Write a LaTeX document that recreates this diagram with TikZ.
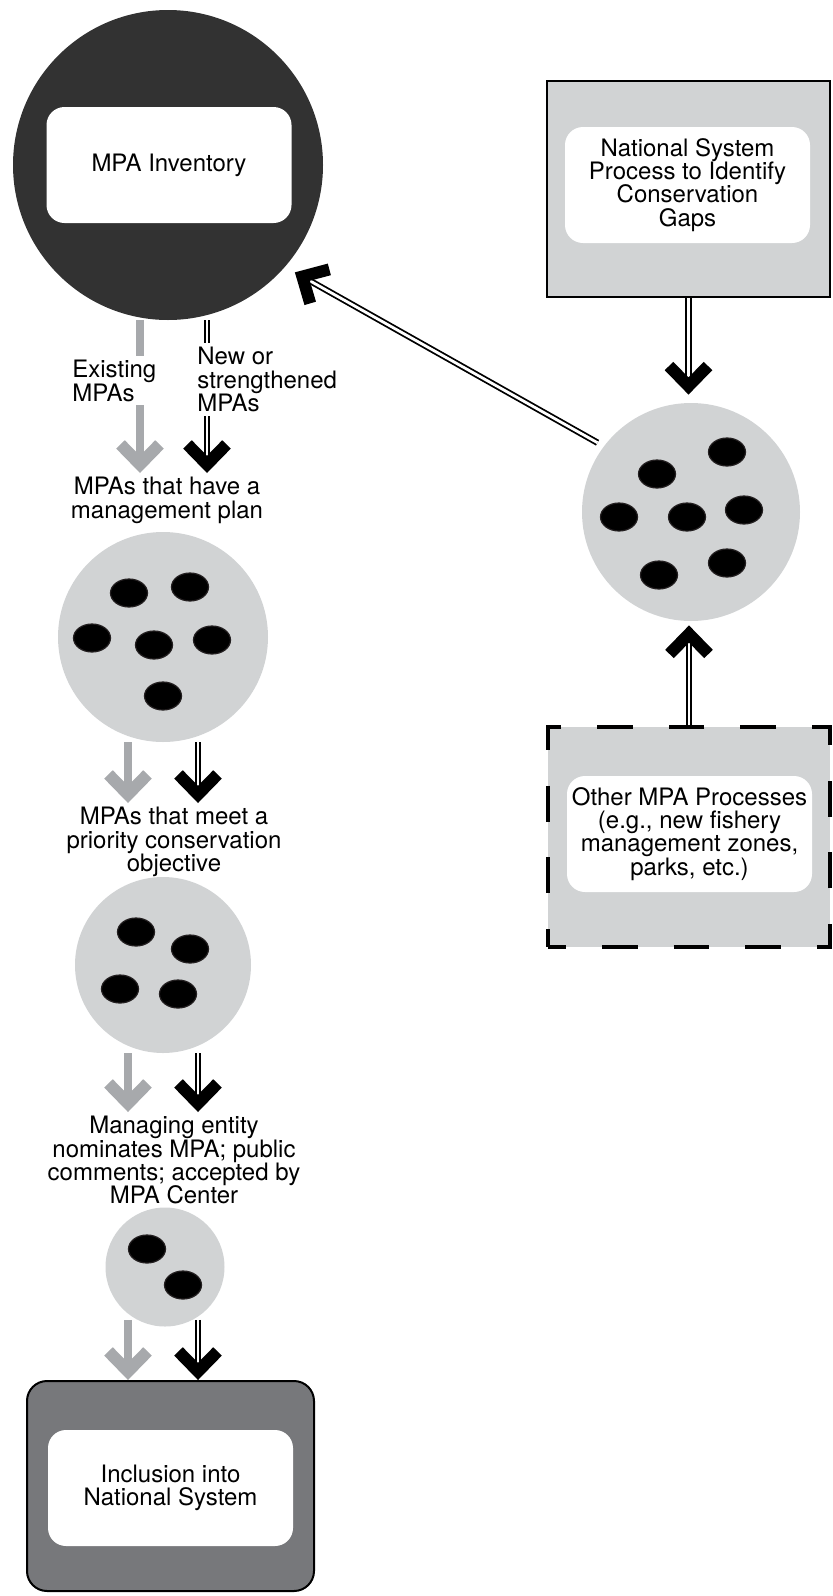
\documentclass[tikz,border=0pt]{standalone}
\usepackage{fontspec}
\setmainfont{TeX Gyre Heros}
\usetikzlibrary{arrows.meta,shapes.geometric}

\definecolor{darkfill}{HTML}{323232}
\definecolor{poolgray}{HTML}{D1D3D4}
\definecolor{arrowgray}{HTML}{A7A9AC}
\definecolor{boxgray}{HTML}{77787B}
\definecolor{dotedge}{HTML}{231F20}
\newcommand{\mpafont}{\fontsize{12}{11.6}\selectfont}

\begin{document}
\begin{tikzpicture}[x=0.5pt,y=-0.5pt]
	\useasboundingbox (0,0) rectangle (833,1596);
	\tikzstyle{pool} = [
		circle, fill=poolgray, inner sep=0pt
	]
	\tikzstyle{dot} = [
		ellipse, fill=black, draw=dotedge, line width=0.6pt,
		minimum width=18.5pt, minimum height=14pt, inner sep=0pt
	]
	\tikzstyle{panel} = [
		rectangle, rounded corners=9pt, fill=white, inner xsep=1pt,
		minimum width=122.5pt, minimum height=58pt, align=center, font=\mpafont
	]
	\tikzstyle{caption} = [
		align=center, inner sep=2pt, font=\mpafont
	]
	\tikzstyle{conn_gray} = [
		draw=arrowgray, line width=4pt,
		-{Straight Barb[length=10pt, width=19.5pt, line width=6pt]}
	]
	\tikzstyle{conn_dbl} = [
		double, double distance=1.4pt, line width=0.9pt,
		-{Straight Barb[length=10pt, width=19.5pt, line width=6pt]}
	]

	% MPA Inventory
	\node (inventory) [pool, fill=darkfill, minimum size=155pt] at (168,165) {};
	\node (inventory_panel) [panel] at (169,165) {MPA Inventory};

	% Gap process
	\node (gaps) [rectangle, draw=black, line width=1pt, fill=poolgray,
		minimum width=141.5pt, minimum height=108pt] at (688.5,189) {};
	\node (gaps_panel) [panel] at (687.5,185) {National System\\Process to Identify\\Conservation\\Gaps};

	% New MPAs
	\node (pool_new) [pool, minimum size=109pt] at (691,512) {};
	\foreach \x/\y [count=\i] in {727/452,657/474,619/517,687/517,744/510,727/563,659/575}
		\node (new_dot\i) [dot] at (\x,\y) {};

	% Other processes
	\node (other) [rectangle, draw=black, line width=1.8pt, fill=poolgray,
		dash pattern=on 17.93pt off 17.93pt, dash phase=8.96pt,
		minimum width=141pt, minimum height=110pt] at (689,837) {};
	\node (other_panel) [panel] at (689.5,834) {Other MPA Processes\\(e.g., new fishery\\management zones,\\parks, etc.)};

	% Left column
	\node (plan_caption) [caption, anchor=north] at (167,473) {MPAs that have a\\management plan};
	\node (plan_pool) [pool, minimum size=105pt] at (163,637) {};
	\foreach \x/\y [count=\i] in {129/593,190/587,92/638,154/645,212/640,163/696}
		\node (plan_dot\i) [dot] at (\x,\y) {};

	\node (meet_caption) [caption, anchor=north] at (174,803) {MPAs that meet a\\priority conservation\\objective};
	\node (meet_pool) [pool, minimum size=88pt] at (163,965) {};
	\foreach \x/\y [count=\i] in {136/932,190/949,120/989,178/994}
		\node (meet_dot\i) [dot] at (\x,\y) {};

	\node (nominated_caption) [caption, anchor=north] at (174,1112) {Managing entity\\nominates MPA; public\\comments; accepted by\\MPA Center};
	\node (nominated_pool) [pool, minimum size=59.5pt] at (165,1267) {};
	\foreach \x/\y [count=\i] in {147/1249,183/1285}
		\node (nominated_dot\i) [dot] at (\x,\y) {};

	% Inclusion
	\node (inclusion) [rectangle, rounded corners=10pt, draw=black, line width=1pt, fill=boxgray,
		minimum width=143.5pt, minimum height=105pt] at (170.5,1486) {};
	\node (inclusion_panel) [panel] at (170.5,1488) {Inclusion into\\National System};

	% Arrow columns
	\coordinate (gray_top) at (140,0);
	\coordinate (black_top) at (207,0);
	\coordinate (gray_col) at (128,0);
	\coordinate (black_col) at (198,0);

	% Left flow
	\draw[conn_gray] (inventory.south -| gray_top) -- (plan_caption.north -| gray_top);
	\draw[conn_dbl] (inventory.south -| black_top) -- (plan_caption.north -| black_top);
	\draw[conn_gray] (plan_pool.south -| gray_col) -- (meet_caption.north -| gray_col);
	\draw[conn_dbl] (plan_pool.south -| black_col) -- (meet_caption.north -| black_col);
	\draw[conn_gray] (meet_pool.south -| gray_col) -- (nominated_caption.north -| gray_col);
	\draw[conn_dbl] (meet_pool.south -| black_col) -- (nominated_caption.north -| black_col);
	\draw[conn_gray] ([yshift=3.5pt]nominated_pool.south -| gray_col) -- (inclusion.north -| gray_col);
	\draw[conn_dbl] ([yshift=3.5pt]nominated_pool.south -| black_col) -- (inclusion.north -| black_col);

	% Right flow
	\draw[conn_dbl, shorten >=4pt] (gaps.south) -- (gaps.south |- pool_new.north);
	\draw[conn_dbl, shorten >=2pt] (other.north) -- (other.north |- pool_new.south);
	\draw[conn_dbl, shorten <=3.5pt, shorten >=5.5pt] (pool_new.143) -- (inventory.-41);

	% Labels over the first arrows
	\node (existing_caption) [caption, align=left, anchor=north west, fill=white] at (68,356) {Existing\\MPAs};
	\node (new_caption) [caption, align=left, anchor=north west, fill=white] at (193,343) {New or\\strengthened\\MPAs};

\end{tikzpicture}
\end{document}
